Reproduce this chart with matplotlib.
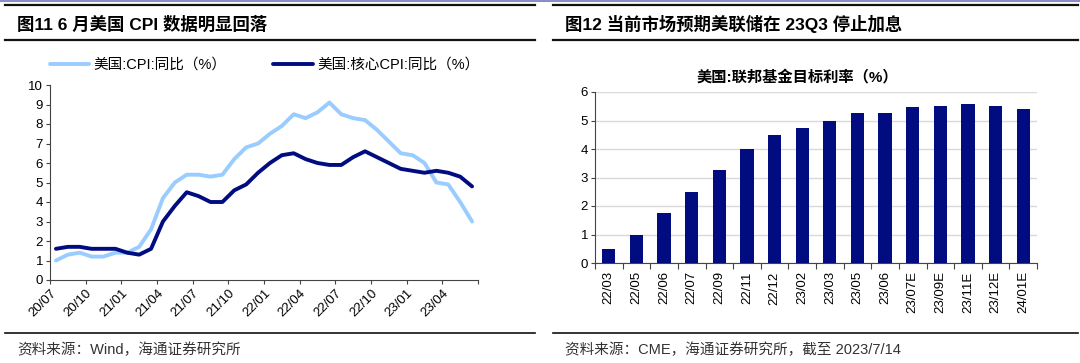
import numpy as np
import matplotlib
matplotlib.use("Agg")
import matplotlib.pyplot as plt
from matplotlib.lines import Line2D

plt.rcParams['font.family'] = ['Liberation Sans', 'Noto Sans CJK SC', 'DejaVu Sans']
plt.rcParams['axes.unicode_minus'] = False

# ---- 左图：美国CPI同比 2020/07 - 2023/06 (月度) ----
months = ["20/07", "20/08", "20/09", "20/10", "20/11", "20/12",
          "21/01", "21/02", "21/03", "21/04", "21/05", "21/06",
          "21/07", "21/08", "21/09", "21/10", "21/11", "21/12",
          "22/01", "22/02", "22/03", "22/04", "22/05", "22/06",
          "22/07", "22/08", "22/09", "22/10", "22/11", "22/12",
          "23/01", "23/02", "23/03", "23/04", "23/05", "23/06"]
cpi = [1.0, 1.3, 1.4, 1.2, 1.2, 1.4, 1.4, 1.7, 2.6, 4.2, 5.0, 5.4,
       5.4, 5.3, 5.4, 6.2, 6.8, 7.0, 7.5, 7.9, 8.5, 8.3, 8.6, 9.1,
       8.5, 8.3, 8.2, 7.7, 7.1, 6.5, 6.4, 6.0, 5.0, 4.9, 4.0, 3.0]
core_cpi = [1.6, 1.7, 1.7, 1.6, 1.6, 1.6, 1.4, 1.3, 1.6, 3.0, 3.8, 4.5,
            4.3, 4.0, 4.0, 4.6, 4.9, 5.5, 6.0, 6.4, 6.5, 6.2, 6.0, 5.9,
            5.9, 6.3, 6.6, 6.3, 6.0, 5.7, 5.6, 5.5, 5.6, 5.5, 5.3, 4.8]
quarter_labels = months[::3]

# ---- 右图：联邦基金目标利率 ----
fed_dates = ["22/03", "22/05", "22/06", "22/07", "22/09", "22/11", "22/12",
             "23/02", "23/03", "23/05", "23/06", "23/07E", "23/09E",
             "23/11E", "23/12E", "24/01E"]
fed_rate = [0.5, 1.0, 1.75, 2.5, 3.25, 4.0, 4.5, 4.75, 5.0, 5.25, 5.25,
            5.48, 5.52, 5.57, 5.52, 5.39]

light_blue = "#99CCFF"
navy = "#000C80"
W, H = 1080, 363

fig = plt.figure(figsize=(10.8, 3.63), dpi=100)

def fx(px):
    return px / W

def fy(py):
    return 1 - py / H

# 顶部紫色细线
fig.add_artist(Line2D([0, 1], [fy(0.5), fy(0.5)], color="#8C8CC8", lw=1.5))

# 标题与分隔线
for x0, x1 in [(5, 535), (553, 1078)]:
    for yy, lw in [(5, 1.6), (40, 1.6), (333, 1.2)]:
        fig.add_artist(Line2D([fx(x0), fx(x1)], [fy(yy), fy(yy)], color="#111111", lw=lw))

fig.text(fx(17), fy(24), "图11 6 月美国 CPI 数据明显回落", fontsize=12.5, fontweight="bold",
         va="center", ha="left", color="#000000")
fig.text(fx(565), fy(24), "图12 当前市场预期美联储在 23Q3 停止加息", fontsize=12.5, fontweight="bold",
         va="center", ha="left", color="#000000")
fig.text(fx(17), fy(350), "资料来源：Wind，海通证券研究所", fontsize=10.5,
         va="center", ha="left", color="#333333")
fig.text(fx(565), fy(350), "资料来源：CME，海通证券研究所，截至 2023/7/14", fontsize=10.5,
         va="center", ha="left", color="#333333")

# ---- 左图 ----
ax1 = fig.add_axes([fx(50), fy(280), fx(428), (280 - 85) / H])
x = np.arange(len(months))
ax1.plot(x, cpi, color=light_blue, lw=2.8, solid_joinstyle="round",
         solid_capstyle="round", label="美国:CPI:同比（%）")
ax1.plot(x, core_cpi, color=navy, lw=2.8, solid_joinstyle="round",
         solid_capstyle="round", label="美国:核心CPI:同比（%）")
ax1.set_xlim(-0.5, len(months) - 0.5)
ax1.set_ylim(0, 10)
ax1.set_yticks(range(0, 11))
ax1.set_xticks(np.arange(-0.5, len(months), 3))
ax1.set_xticklabels(quarter_labels + [""], rotation=45, ha="right", va="top",
                    rotation_mode="anchor")
ax1.tick_params(axis="both", labelsize=9.5, length=3, width=0.8, color="#444444",
                labelcolor="#000000", pad=2)
for s in ["top", "right"]:
    ax1.spines[s].set_visible(False)
for s in ["left", "bottom"]:
    ax1.spines[s].set_color("#444444")
    ax1.spines[s].set_linewidth(0.8)
ax1.legend(loc="center left", bbox_to_anchor=(fx(50), fy(65)), bbox_transform=fig.transFigure,
           ncol=2, frameon=False, fontsize=10.5, handlelength=2.7, handletextpad=0.3,
           columnspacing=3.2, borderaxespad=0, borderpad=0)

# ---- 右图 ----
ax2 = fig.add_axes([fx(595), fy(263), fx(442), (263 - 92) / H])
xb = np.arange(len(fed_dates))
ax2.bar(xb, fed_rate, width=0.48, color=navy, zorder=3)
ax2.set_xlim(-0.5, len(fed_dates) - 0.5)
ax2.set_ylim(0, 6)
ax2.set_yticks(range(0, 7))
ax2.yaxis.grid(True, color="#D9D9D9", lw=1.0, zorder=0)
ax2.set_axisbelow(True)
ax2.set_xticks(xb)
ax2.set_xticklabels(fed_dates, rotation=90, ha="center", va="top")
ax2.set_xticks(np.arange(-0.5, len(fed_dates), 1), minor=True)
ax2.tick_params(axis="x", which="major", length=0, pad=6)
ax2.tick_params(axis="x", which="minor", length=4, width=0.8, color="#444444")
ax2.tick_params(axis="both", labelsize=9.5, labelcolor="#000000")
ax2.tick_params(axis="y", length=3, width=0.8, color="#444444", pad=2)
for s in ["top", "right"]:
    ax2.spines[s].set_visible(False)
for s in ["left", "bottom"]:
    ax2.spines[s].set_color("#444444")
    ax2.spines[s].set_linewidth(0.8)
fig.text(fx(797), fy(77), "美国:联邦基金目标利率（%）", fontsize=11, fontweight="bold",
         ha="center", va="center", color="#000000")

fig.savefig("out.png", dpi=100)
